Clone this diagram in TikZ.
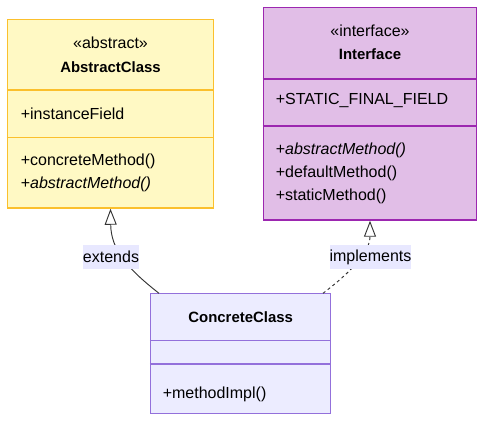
\documentclass[tikz,border=0pt]{standalone}
\usepackage{fontspec}
\setmainfont{Liberation Sans}
\usetikzlibrary{arrows.meta}
\definecolor{absfill}{HTML}{FFF9C4}
\definecolor{absline}{HTML}{FBC02D}
\definecolor{intfill}{HTML}{E1BEE7}
\definecolor{intline}{HTML}{9C27B0}
\definecolor{confill}{HTML}{ECECFF}
\definecolor{conline}{HTML}{9370DB}
\definecolor{lblfill}{HTML}{E8E8FF}
\definecolor{edgecol}{HTML}{333333}
\tikzset{every picture/.append style={x=0.75pt, y=-0.75pt}}
\tikzset{
    every node/.style={font=\fontsize{12}{14}\selectfont, inner sep=0pt},
    member/.style={anchor=west},
    title/.style={font=\fontsize{11.2}{14}\selectfont\bfseries},
    classbox/.style={rectangle, line width=1.1pt},
    rule/.style={line width=1.1pt},
    edgelabel/.style={fill=lblfill, minimum height=18pt},
    hollow/.style={-{Triangle[open, length=12pt, width=9pt]}, draw=edgecol,
    	line width=0.7pt}
}

\begin{document}
\begin{tikzpicture}
  \useasboundingbox (0,0) rectangle (493,432);

  \node (abs) [classbox, draw=absline, fill=absfill, minimum width=154.5pt,
    minimum height=141.4pt] at (110.5, 113.75) {};
  \node (int) [classbox, draw=intline, fill=intfill, minimum width=160pt,
    minimum height=159.2pt] at (370, 113.85) {};
  \node (con) [classbox, draw=conline, fill=confill, minimum width=135pt,
    minimum height=90pt] at (240.7, 353.3) {};

  \draw[rule, absline] (abs.west |- 0,90) -- (abs.east |- 0,90);
  \draw[rule, absline] (abs.west |- 0,137.7) -- (abs.east |- 0,137.7);
  \draw[rule, intline] (int.west |- 0,79) -- (int.east |- 0,79);
  \draw[rule, intline] (int.west |- 0,126) -- (int.east |- 0,126);
  \draw[rule, conline] (con.west |- 0,340.3) -- (con.east |- 0,340.3);
  \draw[rule, conline] (con.west |- 0,364) -- (con.east |- 0,364);

  \node (abs-st) at (110.5, 43) {«abstract»};
  \node (abs-name) [title] at (110.5, 67) {AbstractClass};
  \node (abs-f1) [member] at (20.5, 114) {+instanceField};
  \node (abs-m1) [member] at (20.5, 161.5) {+concreteMethod()};
  \node (abs-m2) [member] at (20.5, 184.5) {+\itshape abstractMethod()};

  \node (int-st) at (370, 31) {«interface»};
  \node (int-name) [title] at (370, 54.5) {Interface};
  \node (int-f1) [member] at (275.5, 101) {+STATIC\_FINAL\_FIELD};
  \node (int-m1) [member] at (275.5, 150) {+\itshape abstractMethod()};
  \node (int-m2) [member] at (275.5, 173.3) {+defaultMethod()};
  \node (int-m3) [member] at (275.5, 196.7) {+staticMethod()};

  \node (con-name) [title] at (240.7, 316.7) {ConcreteClass};
  \node (con-m1) [member] at (162.5, 394.3) {+methodImpl()};

  \coordinate (extstart) at (159, 293.3);
  \coordinate (implstart) at (323, 293.3);

  \draw[hollow] (extstart) .. controls (128, 269) and (111, 250) .. (abs.south);
  \draw[hollow, dash pattern=on 2.25pt off 2.25pt]
    (implstart) .. controls (355, 269) and (370, 250) .. (int.south);

  \node (ext) [edgelabel] at (111, 257) {extends};
  \node (impl) [edgelabel] at (370.5, 257) {implements};
\end{tikzpicture}
\end{document}
